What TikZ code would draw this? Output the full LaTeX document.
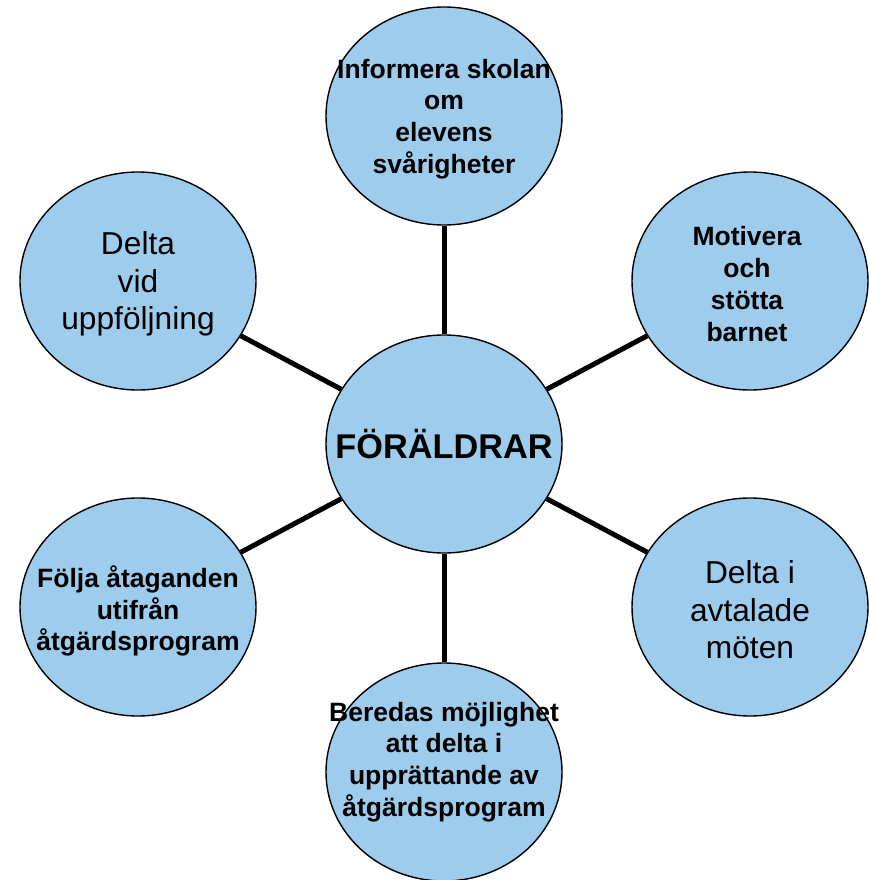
\documentclass[tikz,border=0pt]{standalone}
\usepackage{fontspec}
\setmainfont{Liberation Sans}
\usetikzlibrary{shapes.geometric}
\definecolor{bubblefill}{RGB}{158,204,236}
\tikzset{
  bubble/.style={ellipse, draw=black, line width=1.4pt, fill=bubblefill,
    minimum width=236pt, minimum height=218pt, inner sep=0pt},
  boldtxt/.style={align=center, inner sep=0pt, font=\bfseries\fontsize{26.5}{31.7}\selectfont},
  regtxt/.style={align=center, inner sep=0pt, font=\fontsize{31.7}{37.5}\selectfont},
  centertxt/.style={align=center, inner sep=0pt, font=\bfseries\fontsize{34.3}{40}\selectfont},
  conn/.style={line width=5pt, draw=black}
}
\begin{document}
\begin{tikzpicture}[x=1pt,y=-1pt]
\useasboundingbox (0,0) rectangle (868,880);
% bubbles
\node[bubble] (c)  at (444,444) {};
\node[bubble] (t)  at (444,116) {};
\node[bubble] (lu) at (138,281) {};
\node[bubble] (ru) at (750,281) {};
\node[bubble] (ll) at (138,607) {};
\node[bubble] (rl) at (750,607) {};
\node[bubble] (b)  at (444,772) {};
% connectors
\draw[conn] (c) -- (t);
\draw[conn] (c) -- (lu);
\draw[conn] (c) -- (ru);
\draw[conn] (c) -- (ll);
\draw[conn] (c) -- (rl);
\draw[conn] (c) -- (b);
% texts
\node[centertxt] (ctxt) at (444,444) {FÖRÄLDRAR};
\node[boldtxt] (ttxt) at (444,119) {Informera skolan\\om\\elevens\\svårigheter};
\node[regtxt] (lutxt) at (138,284) {Delta\\vid\\uppföljning};
\node[boldtxt] (rutxt) at (747,284) {Motivera\\och\\stötta\\barnet};
\node[boldtxt] (lltxt) at (138,611) {Följa åtaganden\\utifrån\\åtgärdsprogram};
\node[regtxt] (rltxt) at (750,610) {Delta i\\avtalade\\möten};
\node[boldtxt] (btxt) at (444,762) {Beredas möjlighet\\att delta i\\upprättande av\\åtgärdsprogram};
\end{tikzpicture}
\end{document}
